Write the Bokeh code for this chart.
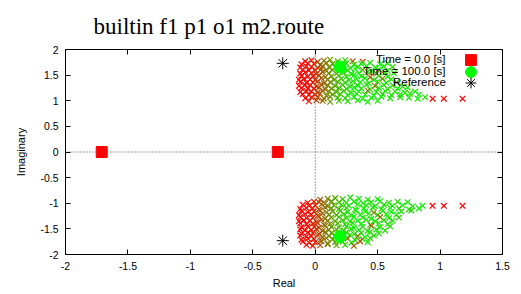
from bokeh.plotting import figure
from bokeh.models import (Range1d, LinearAxis, FixedTicker, Span, Legend,
                          LegendItem, ColumnDataSource)
from bokeh.embed import file_html
from bokeh.resources import INLINE

title_text = "builtin f1 p1 o1 m2.route"

x_ticks = [-2, -1.5, -1, -0.5, 0, 0.5, 1, 1.5]
x_tick_labels = ["-2", "-1.5", "-1", "-0.5", "0", "0.5", "1", "1.5"]
y_ticks = [-2, -1.5, -1, -0.5, 0, 0.5, 1, 1.5, 2]
y_tick_labels = ["-2", "-1.5", "-1", "-0.5", "0", "0.5", "1", "1.5", "2"]

legend_labels = ["Time = 0.0 [s]", "Time = 100.0 [s]", "Reference"]

# poles at Time = 0.0 [s]
t0_re = [-1.71, -0.30]
t0_im = [0.0, 0.0]
# poles at Time = 100.0 [s]
t100_re = [0.20, 0.20]
t100_im = [1.66, -1.65]
# reference poles
ref_re = [-0.26, -0.26]
ref_im = [1.73, -1.73]

# pole trajectory, upper branch (t = fraction of the 100 s run)
up_re = [
    -0.08, -0.03, 0.02, 0.07, 0.12, 0.18, 0.24, 0.30, 0.38,
    -0.11, -0.06, -0.01, 0.04, 0.09, 0.14, 0.19, 0.25, 0.31, 0.37, 0.44, 0.52, 0.58,
    -0.12, -0.07, -0.03, 0.02, 0.06, 0.11, 0.16, 0.22, 0.28, 0.34, 0.41, 0.48, 0.55, 0.62,
    -0.10, -0.05, 0.00, 0.05, 0.09, 0.14, 0.20, 0.26, 0.32, 0.38, 0.45, 0.51, 0.58,
    -0.12, -0.08, -0.03, 0.01, 0.06, 0.11, 0.17, 0.23, 0.29, 0.35, 0.42, 0.49, 0.56, 0.63,
    -0.11, -0.06, -0.02, 0.03, 0.08, 0.13, 0.19, 0.25, 0.31, 0.37, 0.44, 0.51, 0.58,
    -0.13, -0.09, -0.04, 0.00, 0.05, 0.10, 0.15, 0.21, 0.27, 0.33, 0.40, 0.47, 0.54, 0.61,
    -0.12, -0.07, -0.02, 0.02, 0.07, 0.12, 0.18, 0.24, 0.30, 0.36, 0.43, 0.50, 0.57, 0.65,
    -0.13, -0.08, -0.04, 0.01, 0.05, 0.10, 0.16, 0.22, 0.28, 0.34, 0.41, 0.48, 0.55, 0.62, 0.70,
    -0.11, -0.06, -0.01, 0.03, 0.08, 0.13, 0.19, 0.25, 0.31, 0.37, 0.44, 0.51, 0.58, 0.66, 0.74,
    -0.12, -0.07, -0.03, 0.02, 0.06, 0.11, 0.17, 0.23, 0.29, 0.35, 0.42, 0.49, 0.56, 0.64, 0.72, 0.80,
    -0.10, -0.05, 0.00, 0.04, 0.09, 0.14, 0.20, 0.26, 0.33, 0.40, 0.47, 0.54, 0.61, 0.68, 0.76, 0.83,
    -0.08, -0.03, 0.02, 0.07, 0.12, 0.18, 0.24, 0.31, 0.38, 0.45, 0.53, 0.60, 0.68, 0.75, 0.82, 0.88,
    -0.05, 0.01, 0.06, 0.12, 0.19, 0.26, 0.34, 0.42, 0.50,
    0.94, 1.03, 1.18,
]
up_im = [
    1.77, 1.79, 1.76, 1.78, 1.80, 1.77, 1.79, 1.77, 1.76,
    1.71, 1.73, 1.72, 1.70, 1.74, 1.72, 1.71, 1.73, 1.70, 1.72, 1.74, 1.71, 1.73,
    1.65, 1.67, 1.66, 1.64, 1.68, 1.66, 1.65, 1.67, 1.64, 1.66, 1.68, 1.65, 1.67, 1.66,
    1.61, 1.59, 1.60, 1.62, 1.58, 1.60, 1.61, 1.59, 1.62, 1.60, 1.58, 1.61, 1.59,
    1.53, 1.55, 1.54, 1.52, 1.56, 1.54, 1.53, 1.55, 1.52, 1.54, 1.56, 1.53, 1.55, 1.54,
    1.49, 1.47, 1.48, 1.50, 1.46, 1.48, 1.49, 1.47, 1.50, 1.48, 1.46, 1.49, 1.47,
    1.41, 1.43, 1.42, 1.40, 1.44, 1.42, 1.41, 1.43, 1.40, 1.42, 1.44, 1.41, 1.43, 1.42,
    1.37, 1.35, 1.36, 1.38, 1.34, 1.36, 1.37, 1.35, 1.38, 1.36, 1.34, 1.37, 1.35, 1.36,
    1.29, 1.31, 1.30, 1.28, 1.32, 1.30, 1.29, 1.31, 1.28, 1.30, 1.32, 1.29, 1.31, 1.30, 1.28,
    1.25, 1.23, 1.24, 1.26, 1.22, 1.24, 1.25, 1.23, 1.26, 1.24, 1.22, 1.25, 1.23, 1.24, 1.26,
    1.17, 1.19, 1.18, 1.16, 1.20, 1.18, 1.17, 1.19, 1.16, 1.18, 1.20, 1.17, 1.19, 1.18, 1.16, 1.18,
    1.13, 1.11, 1.12, 1.14, 1.10, 1.12, 1.13, 1.11, 1.14, 1.12, 1.10, 1.13, 1.11, 1.12, 1.14, 1.12,
    1.05, 1.07, 1.06, 1.04, 1.08, 1.06, 1.05, 1.07, 1.04, 1.06, 1.08, 1.05, 1.07, 1.06, 1.04, 1.07,
    0.99, 1.01, 1.00, 0.98, 1.00, 0.99, 1.01, 0.98, 1.00,
    1.04, 1.04, 1.04,
]
up_t = [
    0.05, 0.10, 0.30, 0.45, 0.60, 0.75, 0.85, 0.35, 0.30,
    0.00, 0.05, 0.12, 0.35, 0.50, 0.62, 0.75, 0.85, 0.90, 0.95, 0.90, 0.95, 0.85,
    0.00, 0.03, 0.10, 0.25, 0.45, 0.55, 0.70, 0.80, 0.90, 0.95, 1.00, 0.90, 0.95, 0.85,
    0.02, 0.06, 0.15, 0.35, 0.50, 0.65, 0.80, 0.90, 0.95, 0.60, 0.95, 0.90, 0.90,
    0.00, 0.02, 0.08, 0.20, 0.40, 0.55, 0.70, 0.85, 0.90, 0.95, 0.90, 0.40, 0.95, 0.90,
    0.00, 0.04, 0.10, 0.30, 0.45, 0.60, 0.75, 0.85, 0.95, 0.90, 0.35, 0.90, 0.85,
    0.00, 0.00, 0.05, 0.15, 0.35, 0.50, 0.65, 0.80, 0.90, 1.00, 0.95, 0.90, 0.50, 0.90,
    0.00, 0.03, 0.10, 0.25, 0.40, 0.55, 0.70, 0.85, 0.90, 0.95, 0.90, 0.85, 0.90, 0.80,
    0.00, 0.02, 0.06, 0.20, 0.35, 0.50, 0.65, 0.80, 0.90, 0.95, 0.90, 0.45, 0.90, 0.85, 0.90,
    0.00, 0.05, 0.12, 0.30, 0.45, 0.60, 0.75, 0.85, 0.95, 0.90, 0.95, 0.90, 0.85, 0.95, 0.90,
    0.00, 0.03, 0.08, 0.25, 0.40, 0.55, 0.70, 0.80, 0.90, 0.95, 0.50, 0.90, 0.95, 0.90, 0.85, 0.90,
    0.02, 0.06, 0.15, 0.35, 0.50, 0.65, 0.80, 0.90, 0.95, 0.90, 0.95, 0.85, 0.90, 0.95, 0.90, 1.00,
    0.04, 0.10, 0.30, 0.45, 0.60, 0.75, 0.85, 0.90, 0.95, 0.90, 0.95, 0.90, 0.85, 0.90, 0.95, 0.90,
    0.08, 0.25, 0.40, 0.60, 0.75, 0.85, 0.90, 0.95, 0.90,
    0.00, 0.00, 0.00,
]

# pole trajectory, lower branch
lo_re = [
    0.04, 0.10, 0.16, 0.22, 0.28, 0.35, 0.42, 0.50,
    -0.06, -0.01, 0.03, 0.08, 0.13, 0.19, 0.25, 0.31, 0.38, 0.45, 0.52, 0.59, 0.66, 0.74,
    -0.10, -0.05, 0.00, 0.05, 0.10, 0.15, 0.21, 0.27, 0.34, 0.41, 0.48, 0.55, 0.62, 0.70, 0.78, 0.86,
    -0.12, -0.07, -0.02, 0.03, 0.08, 0.13, 0.19, 0.25, 0.32, 0.39, 0.46, 0.53, 0.60, 0.67, 0.75, 0.83,
    -0.11, -0.06, -0.01, 0.04, 0.09, 0.14, 0.20, 0.26, 0.33, 0.40, 0.47, 0.54, 0.61, 0.69, 0.77,
    -0.13, -0.08, -0.03, 0.02, 0.06, 0.11, 0.17, 0.23, 0.29, 0.36, 0.43, 0.50, 0.57, 0.65,
    -0.12, -0.07, -0.02, 0.03, 0.08, 0.13, 0.19, 0.25, 0.31, 0.38, 0.45, 0.52, 0.59, 0.67,
    -0.13, -0.09, -0.04, 0.01, 0.05, 0.10, 0.16, 0.22, 0.28, 0.34, 0.41, 0.48, 0.55, 0.62,
    -0.12, -0.07, -0.02, 0.02, 0.07, 0.12, 0.18, 0.24, 0.30, 0.37, 0.44, 0.51, 0.58,
    -0.11, -0.06, -0.01, 0.03, 0.08, 0.13, 0.19, 0.25, 0.31, 0.38, 0.45, 0.52, 0.60,
    -0.12, -0.08, -0.03, 0.01, 0.06, 0.11, 0.17, 0.23, 0.29, 0.35, 0.42, 0.49, 0.56,
    -0.11, -0.06, -0.02, 0.03, 0.08, 0.13, 0.19, 0.25, 0.31, 0.37, 0.44, 0.51,
    -0.12, -0.07, -0.03, 0.02, 0.06, 0.11, 0.16, 0.22, 0.28, 0.34, 0.40, 0.47,
    -0.11, -0.06, -0.01, 0.04, 0.09, 0.14, 0.20, 0.26, 0.32, 0.38, 0.44,
    -0.10, -0.05, 0.00, 0.05, 0.10, 0.16, 0.22, 0.29, 0.36, 0.42,
    -0.07, -0.02, 0.04, 0.10, 0.17, 0.24, 0.31,
    0.94, 1.03, 1.18,
]
lo_im = [
    -0.93, -0.91, -0.90, -0.92, -0.89, -0.91, -0.93, -0.92,
    -0.99, -0.97, -0.98, -1.00, -0.96, -0.98, -0.99, -0.97, -1.00, -0.98, -0.96, -0.99, -0.97, -0.98,
    -1.03, -1.05, -1.04, -1.02, -1.06, -1.04, -1.03, -1.05, -1.02, -1.04, -1.06, -1.03, -1.05, -1.04, -1.06, -1.05,
    -1.11, -1.09, -1.10, -1.12, -1.08, -1.10, -1.11, -1.09, -1.12, -1.10, -1.08, -1.11, -1.09, -1.10, -1.12, -1.10,
    -1.15, -1.17, -1.16, -1.14, -1.18, -1.16, -1.15, -1.17, -1.14, -1.16, -1.18, -1.15, -1.17, -1.16, -1.14,
    -1.23, -1.21, -1.22, -1.24, -1.20, -1.22, -1.23, -1.21, -1.24, -1.22, -1.20, -1.23, -1.21, -1.22,
    -1.27, -1.29, -1.28, -1.26, -1.30, -1.28, -1.27, -1.29, -1.26, -1.28, -1.30, -1.27, -1.29, -1.28,
    -1.35, -1.33, -1.34, -1.36, -1.32, -1.34, -1.35, -1.33, -1.36, -1.34, -1.32, -1.35, -1.33, -1.34,
    -1.39, -1.41, -1.40, -1.38, -1.42, -1.40, -1.39, -1.41, -1.38, -1.40, -1.42, -1.39, -1.41,
    -1.47, -1.45, -1.46, -1.48, -1.44, -1.46, -1.47, -1.45, -1.48, -1.46, -1.44, -1.47, -1.45,
    -1.51, -1.53, -1.52, -1.50, -1.54, -1.52, -1.51, -1.53, -1.50, -1.52, -1.54, -1.51, -1.53,
    -1.59, -1.57, -1.58, -1.60, -1.56, -1.58, -1.59, -1.57, -1.60, -1.58, -1.56, -1.59,
    -1.63, -1.65, -1.64, -1.62, -1.66, -1.64, -1.63, -1.65, -1.62, -1.64, -1.66, -1.63,
    -1.71, -1.69, -1.70, -1.72, -1.68, -1.70, -1.71, -1.69, -1.72, -1.70, -1.68,
    -1.75, -1.77, -1.76, -1.74, -1.78, -1.76, -1.75, -1.77, -1.74, -1.76,
    -1.81, -1.83, -1.82, -1.80, -1.82, -1.81, -1.83,
    -1.05, -1.05, -1.05,
]
lo_t = [
    0.35, 0.50, 0.65, 0.80, 0.90, 0.95, 0.90, 0.95,
    0.05, 0.15, 0.30, 0.45, 0.60, 0.75, 0.85, 0.90, 0.95, 0.90, 0.95, 0.90, 0.85, 0.90,
    0.00, 0.06, 0.15, 0.35, 0.50, 0.65, 0.80, 0.90, 0.95, 0.90, 0.95, 0.85, 0.90, 0.95, 0.90, 0.95,
    0.00, 0.03, 0.10, 0.30, 0.45, 0.60, 0.75, 0.85, 0.90, 0.95, 0.90, 0.90, 0.95, 0.85, 0.90, 0.95,
    0.00, 0.05, 0.12, 0.35, 0.50, 0.62, 0.78, 0.88, 0.95, 0.90, 0.45, 0.90, 0.95, 0.90, 0.85,
    0.00, 0.02, 0.08, 0.25, 0.40, 0.55, 0.70, 0.85, 0.90, 0.95, 0.90, 0.85, 0.90, 0.95,
    0.00, 0.04, 0.10, 0.30, 0.45, 0.60, 0.75, 0.85, 0.95, 0.90, 0.90, 0.40, 0.90, 0.85,
    0.00, 0.00, 0.06, 0.20, 0.35, 0.50, 0.65, 0.80, 0.90, 0.95, 0.90, 0.95, 0.85, 0.90,
    0.00, 0.03, 0.10, 0.25, 0.40, 0.55, 0.70, 0.85, 0.90, 0.95, 0.90, 0.85, 0.90,
    0.00, 0.05, 0.12, 0.30, 0.45, 0.60, 0.75, 0.85, 0.95, 0.90, 0.35, 0.90, 0.85,
    0.00, 0.02, 0.08, 0.20, 0.40, 0.55, 0.70, 0.80, 0.90, 0.95, 0.90, 0.90, 0.85,
    0.00, 0.04, 0.10, 0.30, 0.45, 0.60, 0.75, 0.85, 0.95, 0.90, 0.90, 0.85,
    0.00, 0.03, 0.08, 0.25, 0.40, 0.55, 0.70, 0.80, 0.90, 0.50, 0.95, 0.90,
    0.00, 0.05, 0.12, 0.35, 0.50, 0.62, 0.78, 0.40, 0.90, 0.95, 0.85,
    0.02, 0.06, 0.15, 0.35, 0.50, 0.65, 0.80, 0.90, 0.30, 0.90,
    0.05, 0.10, 0.30, 0.50, 0.65, 0.80, 0.40,
    0.00, 0.00, 0.00,
]


def time_color(t):
    return "#%02x%02x00" % (int(round(255 * (1 - t))), int(round(255 * t)))


FONT = "Liberation Sans"
LEG_FONT_PX = 11.5

p = figure(width=521, height=294, x_range=Range1d(-2, 1.5), y_range=Range1d(-2, 2),
           output_backend="svg", toolbar_location=None,
           min_border_left=65, min_border_right=19, min_border_top=48, min_border_bottom=40,
           x_axis_label="Real", y_axis_label="Imaginary")
p.grid.visible = False
p.outline_line_color = "black"
p.outline_line_width = 1
p.background_fill_color = "white"
p.border_fill_color = "white"

p.title.text = title_text
p.title.text_font = "Liberation Serif"
p.title.text_font_size = "23px"
p.title.text_font_style = "normal"
p.title.text_color = "black"
p.title.align = "left"
p.title.offset = 28
p.title.standoff = 22

p.xaxis.ticker = FixedTicker(ticks=x_ticks)
p.yaxis.ticker = FixedTicker(ticks=y_ticks)
p.xaxis.major_label_overrides = dict(zip(x_ticks, x_tick_labels))
p.yaxis.major_label_overrides = dict(zip(y_ticks, y_tick_labels))
for ax in list(p.xaxis) + list(p.yaxis):
    ax.major_tick_in = 5
    ax.major_tick_out = 0
    ax.minor_tick_line_color = None
    ax.axis_line_color = "black"
    ax.major_tick_line_color = "black"
    ax.major_label_text_font = FONT
    ax.major_label_text_font_size = "10.5px"
    ax.major_label_text_color = "black"
    ax.axis_label_text_font = FONT
    ax.axis_label_text_font_size = "11px"
    ax.axis_label_text_font_style = "normal"
    ax.axis_label_text_color = "black"
    ax.major_label_standoff = 7
p.xaxis.axis_label_standoff = 4
p.yaxis.axis_label_standoff = 10

top_ax = LinearAxis(ticker=FixedTicker(ticks=x_ticks),
                    major_label_overrides={t: "" for t in x_ticks})
right_ax = LinearAxis(ticker=FixedTicker(ticks=y_ticks),
                      major_label_overrides={t: "" for t in y_ticks})
for ax in (top_ax, right_ax):
    ax.major_tick_in = 5
    ax.major_tick_out = 0
    ax.minor_tick_line_color = None
    ax.major_label_standoff = 0
    ax.major_label_text_font_size = "1px"
p.add_layout(top_ax, "above")
p.add_layout(right_ax, "right")

p.add_layout(Span(location=0, dimension="height", line_color="#444444",
                  line_dash="1 2", line_width=1, level="underlay"))
p.add_layout(Span(location=0, dimension="width", line_color="#444444",
                  line_dash="1 2", line_width=1, level="underlay"))

traj = ColumnDataSource(dict(
    x=up_re + lo_re,
    y=up_im + lo_im,
    c=[time_color(t) for t in up_t + lo_t],
))
p.scatter("x", "y", source=traj, marker="x", size=8, line_color="c", line_width=1.2)

r_sq = p.scatter(t0_re, t0_im, marker="square", size=11, fill_color="#ff0000",
                 line_color="#ff0000")
r_ci = p.scatter(t100_re, t100_im, marker="circle", size=12, fill_color="#00ff00",
                 line_color="#00ff00")
r_ref = p.scatter(ref_re, ref_im, marker="asterisk", size=12, line_color="black",
                  line_width=1)
renderers = [r_sq, r_ci, r_ref]

# gnuplot-style key: right-aligned text, then the symbol (one legend per row)
FRAME_LEFT, FRAME_BOTTOM = 65, 254
KEY_TEXT_RIGHT, KEY_SYM_X = 446, 470
key_rows_y = [59, 71, 82]
text_em = [6.086, 7.198, 4.613]  # Liberation Sans advance widths in em
for lab, r, yc, em in zip(legend_labels, renderers, key_rows_y, text_em):
    w = em * LEG_FONT_PX
    p.add_layout(Legend(
        items=[LegendItem(label=lab, renderers=[r])],
        location=(KEY_TEXT_RIGHT - w - FRAME_LEFT, FRAME_BOTTOM - yc - 6),
        glyph_width=0, glyph_height=12, label_height=12, label_standoff=0,
        label_width=10, padding=0, margin=0, spacing=0,
        border_line_color=None, background_fill_alpha=0,
        label_text_font=FONT, label_text_font_size="%spx" % LEG_FONT_PX,
        label_text_color="black"))
    p.add_layout(Legend(
        items=[LegendItem(label=" ", renderers=[r])],
        location=(KEY_SYM_X - 13.5 - FRAME_LEFT, FRAME_BOTTOM - yc - 13.5),
        glyph_width=27, glyph_height=27, label_height=12, label_standoff=0,
        label_width=0, padding=0, margin=0, spacing=0,
        border_line_color=None, background_fill_alpha=0,
        label_text_font_size="1px"))

open("out.html", "w").write(file_html(p, INLINE))
